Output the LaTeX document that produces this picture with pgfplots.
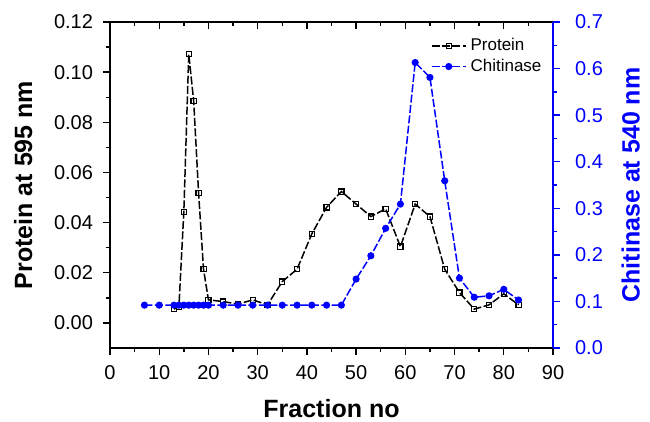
\documentclass[border=0pt]{standalone}
\usepackage{fontspec}
\setmainfont{Liberation Sans}
\usepackage{pgfplots}
\pgfplotsset{compat=1.18}
\definecolor{chitblue}{RGB}{0,0,255}

\pgfplotstableread{
x y
13 0.0055
14 0.0065
15 0.0443
16 0.1072
17 0.0885
18 0.0517
19 0.0214
20 0.0092
23 0.0085
26 0.0075
29 0.0092
32 0.0072
35 0.0165
38 0.0214
41 0.0355
44 0.0461
47 0.0524
50 0.0474
53 0.0424
56 0.0455
59 0.0304
62 0.0474
65 0.0424
68 0.0214
71 0.0121
74 0.0055
77 0.0072
80 0.0116
83 0.0072
}\protein

\pgfplotstableread{
x y
7 0.092
10 0.092
13 0.092
14 0.092
15 0.092
16 0.092
17 0.092
18 0.092
19 0.092
20 0.092
23 0.092
26 0.092
29 0.092
32 0.092
35 0.092
38 0.092
41 0.092
44 0.092
47 0.092
50 0.148
53 0.198
56 0.257
59 0.309
62 0.613
65 0.581
68 0.359
71 0.150
74 0.109
77 0.112
80 0.126
83 0.103
}\chitinase

\begin{document}
\begin{tikzpicture}
\pgfplotsset{
  common/.style={
    width=221.5pt, height=163pt, scale only axis,
    xmin=0, xmax=90,
    /pgf/number format/assume math mode=true,
    tick label style={font=\fontsize{10}{12}\selectfont},
    major tick length=3.5pt, minor tick length=2pt,
    every tick/.style={line width=0.7pt},
    axis line style={line width=0.8pt},
  },
  dashline/.style={line width=0.75pt, dash pattern=on 4pt off 1.2pt},
}
% top border, ticks pointing inward
\begin{axis}[common, axis x line*=top, axis y line=none, tick align=inside,
  xtick={0,10,20,30,40,50,60,70,80,90}, minor x tick num=1, xticklabels={},
  ymin=0, ymax=1]
\end{axis}

% left axis: protein
\begin{axis}[common, name=main, axis x line*=bottom, axis y line*=left, tick align=outside,
  xtick={0,10,20,30,40,50,60,70,80,90}, minor x tick num=1,
  x tick label style={yshift=-1.5pt},
  ymin=-0.01, ymax=0.12,
  ytick={0,0.02,0.04,0.06,0.08,0.10,0.12}, minor y tick num=1,
  y tick label style={xshift=-1.5pt, /pgf/number format/fixed,
    /pgf/number format/fixed zerofill, /pgf/number format/precision=2},
  scaled y ticks=false,
  xlabel={\bfseries\fontsize{12.5}{14}\selectfont Fraction no},
  ylabel={\bfseries\fontsize{12.5}{14}\selectfont Protein at 595 nm},
  xlabel shift=3pt, ylabel shift=4pt,
]
\addplot[black, dashline, mark=square, mark size=1.3pt, mark options={solid, line width=0.6pt}]
  table[x=x, y=y] {\protein};
\end{axis}

% right axis: chitinase
\begin{axis}[common, axis x line=none, axis y line*=right, tick align=outside,
  ymin=0, ymax=0.7,
  ytick={0,0.1,0.2,0.3,0.4,0.5,0.6,0.7}, minor y tick num=1,
  y tick label style={text=chitblue, xshift=4pt, /pgf/number format/fixed,
    /pgf/number format/fixed zerofill, /pgf/number format/precision=1},
  y axis line style={chitblue}, y tick style={chitblue},
  ylabel={\bfseries\fontsize{12.5}{14}\selectfont Chitinase at 540 nm},
  ylabel style={text=chitblue}, ylabel shift=2.5pt,
  legend cell align=left,
  legend style={draw=none, fill=none, at={(0.71,0.975)}, anchor=north west,
    font=\fontsize{8.5}{10}\selectfont, row sep=-1.5pt},
]
\addlegendimage{black, dashline, mark=square, mark size=1.3pt, mark options={solid, line width=0.6pt}}
\addlegendentry{Protein}
\addplot[chitblue, dashline, mark=*, mark size=1.4pt, mark options={solid}]
  table[x=x, y=y] {\chitinase};
\addlegendentry{Chitinase}
\end{axis}

\pgfresetboundingbox
\path[use as bounding box] ([shift={(-55pt,-36.5pt)}]main.south west)
  rectangle ([shift={(48.5pt,11pt)}]main.north east);
\end{tikzpicture}
\end{document}
